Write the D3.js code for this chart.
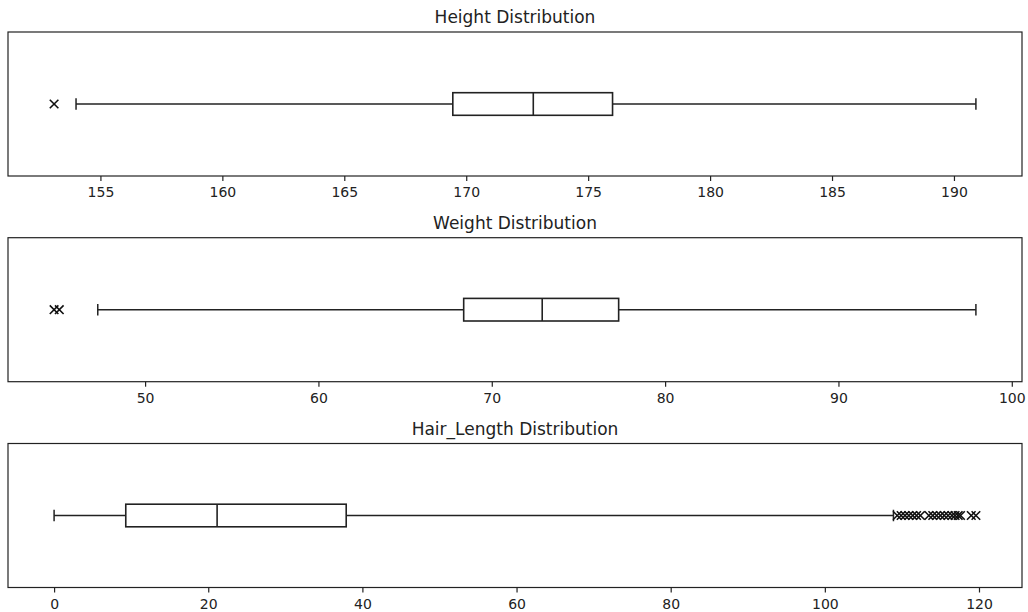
<!DOCTYPE html>
<html lang="en">
<head>
  <meta charset="UTF-8">
  <title>Distributions</title>
  <style>
    body { margin: 0; background: #fff; }
    text { font-family: "DejaVu Sans", sans-serif; fill: #222; }
  </style>
</head>
<body>
  <svg id="chart"></svg>
  <script src="https://cdn.jsdelivr.net/npm/d3@7"></script>
  <script>
    // panel names
    var features = ['Height', 'Weight', 'Hair_Length'];

    // [lower whisker, Q1, median, Q3, upper whisker]
    var heightStats = [154.0, 169.45, 172.75, 176.0, 190.9];
    var weightStats = [47.27, 68.38, 72.91, 77.32, 97.93];
    var hairStats = [0, 9.3, 21.15, 37.9, 108.9];

    // fliers
    var heightOutliers = [153.1];
    var weightOutliers = [44.75, 45.05];
    var hairOutliers = [109.4, 109.9, 110.4, 110.9, 111.4, 111.9, 112.4, 113.5, 114.0, 114.5,
                        115.0, 115.5, 116.0, 116.5, 116.9, 117.3, 117.6, 119.0, 119.6];

    // tick labels
    var heightTicks = [155, 160, 165, 170, 175, 180, 185, 190];
    var weightTicks = [50, 60, 70, 80, 90, 100];
    var hairTicks = [0, 20, 40, 60, 80, 100, 120];

    var stats = [heightStats, weightStats, hairStats];
    var outliers = [heightOutliers, weightOutliers, hairOutliers];
    var ticks = [heightTicks, weightTicks, hairTicks];

    var W = 1028, H = 612;
    var left = 8, right = 1022, panelH = 144;
    var tops = [32, 237.7, 443.5];
    var boxH = 22.6, capH = 11.5;
    var ink = '#222';

    var svg = d3.select('#chart').attr('width', W).attr('height', H);

    features.forEach(function (name, i) {
      var s = stats[i], out = outliers[i];
      var lo = d3.min(out.concat(s)), hi = d3.max(out.concat(s));
      var pad = (hi - lo) * 0.05;
      var x = d3.scaleLinear().domain([lo - pad, hi + pad]).range([left, right]);

      var g = svg.append('g').attr('transform', 'translate(0,' + tops[i] + ')');
      var cy = panelH / 2;

      // title
      g.append('text')
        .attr('x', (left + right) / 2)
        .attr('y', -9)
        .attr('text-anchor', 'middle')
        .style('font-size', '17px')
        .text(name + ' Distribution');

      // whiskers
      g.append('line').attr('x1', x(s[0])).attr('x2', x(s[1])).attr('y1', cy).attr('y2', cy)
        .attr('stroke', ink).attr('stroke-width', 1.5);
      g.append('line').attr('x1', x(s[3])).attr('x2', x(s[4])).attr('y1', cy).attr('y2', cy)
        .attr('stroke', ink).attr('stroke-width', 1.5);
      g.selectAll('.cap').data([s[0], s[4]]).enter().append('line')
        .attr('x1', d => x(d)).attr('x2', d => x(d))
        .attr('y1', cy - capH / 2).attr('y2', cy + capH / 2)
        .attr('stroke', ink).attr('stroke-width', 1.5);

      // box + median
      g.append('rect')
        .attr('x', x(s[1])).attr('y', cy - boxH / 2)
        .attr('width', x(s[3]) - x(s[1])).attr('height', boxH)
        .attr('fill', 'none').attr('stroke', ink).attr('stroke-width', 1.6);
      g.append('line').attr('x1', x(s[2])).attr('x2', x(s[2]))
        .attr('y1', cy - boxH / 2).attr('y2', cy + boxH / 2)
        .attr('stroke', ink).attr('stroke-width', 1.6);

      // fliers
      g.selectAll('.flier').data(out).enter().append('path')
        .attr('transform', d => 'translate(' + x(d) + ',' + cy + ')')
        .attr('d', 'M-4.3,-4.3L4.3,4.3M-4.3,4.3L4.3,-4.3')
        .attr('fill', 'none').attr('stroke', '#111').attr('stroke-width', 1.6);

      // frame
      g.append('rect').attr('x', left).attr('y', 0)
        .attr('width', right - left).attr('height', panelH)
        .attr('fill', 'none').attr('stroke', ink).attr('stroke-width', 1.2);

      // x axis
      var ax = g.append('g').attr('transform', 'translate(0,' + panelH + ')')
        .call(d3.axisBottom(x).tickValues(ticks[i]).tickSize(5).tickPadding(6.5).tickFormat(d3.format('d')));
      ax.select('.domain').remove();
      ax.selectAll('line').attr('stroke', ink).attr('stroke-width', 1.2);
      ax.selectAll('text').style('font-size', '14px').style('font-family', '"DejaVu Sans", sans-serif').attr('fill', ink);
    });
  </script>
</body>
</html>
